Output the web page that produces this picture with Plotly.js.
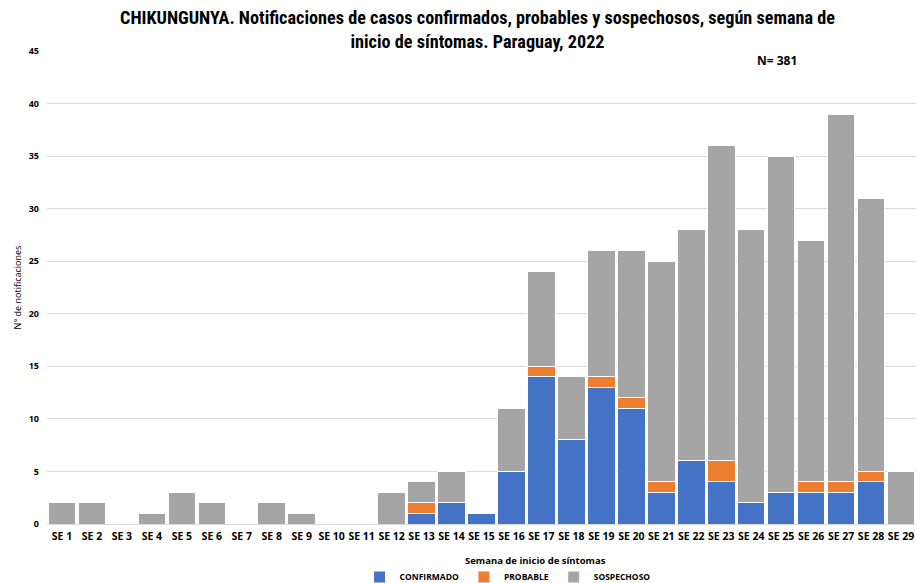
<!DOCTYPE html>
<html>
<head>
<meta charset="utf-8">
<script src="https://cdn.plot.ly/plotly-3.0.1.min.js"></script>
<style>html,body{margin:0;padding:0;background:#fff;}#chart{width:916px;height:583px;}</style>
</head>
<body>
<div id="chart"></div>
<script>
const weeks = ["SE 1","SE 2","SE 3","SE 4","SE 5","SE 6","SE 7","SE 8","SE 9","SE 10","SE 11","SE 12","SE 13","SE 14","SE 15","SE 16","SE 17","SE 18","SE 19","SE 20","SE 21","SE 22","SE 23","SE 24","SE 25","SE 26","SE 27","SE 28","SE 29"];
const confirmado = [0,0,0,0,0,0,0,0,0,0,0,0,1,2,1,5,14,8,13,11,3,6,4,2,3,3,3,4,0];
const probable   = [0,0,0,0,0,0,0,0,0,0,0,0,1,0,0,0,1,0,1,1,1,0,2,0,0,1,1,1,0];
const sospechoso = [2,2,0,1,3,2,0,2,1,0,0,3,2,3,0,6,9,6,12,14,21,22,30,26,32,23,35,26,5];
const yTicks = [0,5,10,15,20,25,30,35,40,45];

const bodyFont = "Open Sans, DejaVu Sans, sans-serif";
const line = {color:"#ffffff", width:1};
const traces = [
  {type:"bar", name:"CONFIRMADO", x:weeks, y:confirmado, marker:{color:"#4472C4", line:line}},
  {type:"bar", name:"PROBABLE", x:weeks, y:probable, marker:{color:"#ED7D31", line:line}},
  {type:"bar", name:"SOSPECHOSO", x:weeks, y:sospechoso, marker:{color:"#A5A5A5", line:line}}
];
const layout = {
  width:916, height:583,
  barmode:"stack", bargap:0.08,
  paper_bgcolor:"#fff", plot_bgcolor:"#fff",
  margin:{l:47, r:0, t:51, b:59},
  title:{text:"<b>CHIKUNGUNYA. Notificaciones de casos confirmados, probables y sospechosos, según semana de<br>inicio de síntomas. Paraguay, 2022</b>",
    font:{family:"Liberation Sans Narrow, Roboto Condensed, Roboto, sans-serif", size:18.2, color:"#000", stretch:"condensed"},
    xref:"paper", x:(477.5-47)/869, xanchor:"center", yref:"container", y:1-24/583, yanchor:"middle", automargin:false},
  xaxis:{automargin:false, tickfont:{family:bodyFont, size:10.5, color:"#000", weight:"bold"}, showgrid:false, showline:false, zeroline:false, ticks:"", ticklabelstandoff:4, fixedrange:true},
  yaxis:{automargin:false, range:[0,45], tickvals:yTicks, ticktext:yTicks.map(String), tickfont:{family:bodyFont, size:9, color:"#000", weight:"bold"}, ticklabelstandoff:7,
    showgrid:true, gridcolor:"#d9d9d9", gridwidth:1, zeroline:true, zerolinecolor:"#d9d9d9", showline:false, ticks:"",
    title:{text:"N° de notificaciones", font:{family:bodyFont, size:9, color:"#000"}, standoff:5}},
  legend:{orientation:"h", x:0.530, xanchor:"center", yref:"container", y:(583-577)/583, yanchor:"middle", font:{family:bodyFont, size:8.5, color:"#000", weight:"bold"}, traceorder:"normal", itemwidth:30},
  showlegend:true,
  annotations:[
    {text:"<b>N= 381</b>", x:0.84, y:1-(60-51)/473, xref:"paper", yref:"paper", showarrow:false, font:{family:bodyFont, size:12, color:"#000"}, xanchor:"center", yanchor:"middle"},
    {text:"<b>Semana de inicio de síntomas</b>", x:(535-47)/869, y:-(560-524)/473, xref:"paper", yref:"paper", showarrow:false, font:{family:bodyFont, size:9.5, color:"#000"}, xanchor:"center", yanchor:"middle"}
  ]
};
Plotly.newPlot("chart", traces, layout, {displayModeBar:false, staticPlot:true});
</script>
</body>
</html>
